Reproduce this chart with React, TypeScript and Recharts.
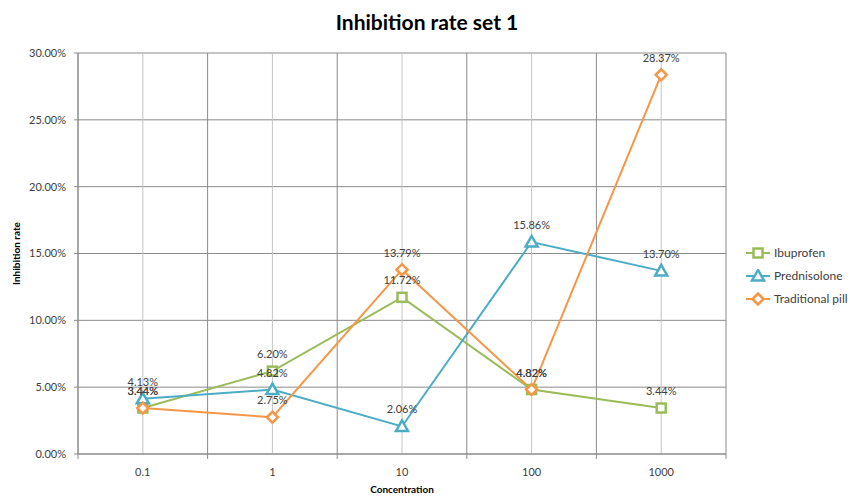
import React from 'react';
import { LineChart, Line, XAxis, YAxis, CartesianGrid, LabelList, Legend } from 'recharts';

const categories = ['0.1', '1', '10', '100', '1000'];
const ibuprofen = [0.0344, 0.062, 0.1172, 0.0482, 0.0344];
const prednisolone = [0.0413, 0.0482, 0.0206, 0.1586, 0.137];
const traditionalPill = [0.0344, 0.0275, 0.1379, 0.0482, 0.2837];
const yTicks = [0, 0.05, 0.1, 0.15, 0.2, 0.25, 0.3];
const xTicks = [-0.5, 0, 0.5, 1, 1.5, 2, 2.5, 3, 3.5, 4, 4.5];

const seriesList = [
  { key: 'ibu', name: 'Ibuprofen', color: '#9BBB59', shape: 'square', values: ibuprofen },
  { key: 'pred', name: 'Prednisolone', color: '#4BACC6', shape: 'triangle', values: prednisolone },
  { key: 'trad', name: 'Traditional pill', color: '#F79646', shape: 'diamond', values: traditionalPill },
];

const data = categories.map((c, i) => {
  const row: any = { idx: i, label: c };
  seriesList.forEach((s) => {
    row[s.key] = s.values[i];
  });
  return row;
});

const FONT = 'Lato, "Open Sans", sans-serif';
const TEXT = '#404040';
const GRID_DARK = '#8a8a8a';
const GRID_LIGHT = '#c4c4c4';

const pct = (v: any) => (Number(v) * 100).toFixed(2) + '%';

function MarkerShape({ shape, cx, cy, color }: any) {
  if (cx == null || cy == null) return null;
  const sw = 2.5;
  if (shape === 'square') {
    return <rect x={cx - 4.5} y={cy - 4.5} width={9} height={9} fill="#fff" stroke={color} strokeWidth={sw} />;
  }
  if (shape === 'triangle') {
    return (
      <polygon
        points={`${cx},${cy - 6} ${cx - 6},${cy + 4.5} ${cx + 6},${cy + 4.5}`}
        fill="#fff"
        stroke={color}
        strokeWidth={sw}
        strokeLinejoin="miter"
      />
    );
  }
  return (
    <polygon
      points={`${cx},${cy - 5.5} ${cx + 5.5},${cy} ${cx},${cy + 5.5} ${cx - 5.5},${cy}`}
      fill="#fff"
      stroke={color}
      strokeWidth={sw}
    />
  );
}

function XTick(props: any) {
  const { x, y, payload } = props;
  const v = payload.value;
  if (Number.isInteger(v)) {
    return (
      <text x={x} y={y + 22} textAnchor="middle" fill={TEXT} fontSize={11} fontFamily={FONT}>
        {categories[v]}
      </text>
    );
  }
  return <line x1={x} y1={y} x2={x} y2={y + 5} stroke={GRID_DARK} strokeWidth={1} />;
}

function GridV(props: any) {
  const { x1, y1, x2, y2, index } = props;
  const dark = index % 2 === 0;
  return <line key={`gv-${index}`} x1={x1} y1={y1} x2={x2} y2={y2} stroke={dark ? GRID_DARK : GRID_LIGHT} strokeWidth={1} />;
}

function LegendContent() {
  return (
    <div style={{ fontFamily: FONT, fontSize: 12, color: TEXT }}>
      {seriesList.map((s) => (
        <div key={s.key} style={{ display: 'flex', alignItems: 'center', height: 23, whiteSpace: 'nowrap' }}>
          <svg width={24} height={14} style={{ marginRight: 4, flex: 'none' }}>
            <line x1={0} y1={7} x2={24} y2={7} stroke={s.color} strokeWidth={2} />
            <MarkerShape shape={s.shape} cx={12} cy={7} color={s.color} />
          </svg>
          <span>{s.name}</span>
        </div>
      ))}
    </div>
  );
}

export default function App() {
  return (
    <div style={{ position: 'absolute', left: 0, top: 0, width: 850, height: 496, background: '#fff', fontFamily: FONT, overflow: 'hidden' }}>
      <div
        style={{
          position: 'absolute',
          left: 0,
          top: 9,
          width: 854,
          textAlign: 'center',
          fontSize: 21,
          lineHeight: '26px',
          fontWeight: 700,
          color: '#000',
          fontFamily: FONT,
        }}
      >
        Inhibition rate set 1
      </div>
      <LineChart
        width={850}
        height={496}
        data={data}
        margin={{ top: 53, right: 124, bottom: 12, left: 0 }}
        style={{ fontFamily: FONT }}
      >
        <CartesianGrid horizontal={true} vertical={GridV as any} stroke={GRID_DARK} strokeDasharray="" />
        <XAxis
          dataKey="idx"
          type="number"
          domain={[-0.5, 4.5]}
          ticks={xTicks}
          interval={0}
          tick={<XTick />}
          tickLine={false}
          tickSize={0}
          tickMargin={0}
          height={30}
          stroke={GRID_DARK}
          label={{
            content: (p: any) => {
              const vb = p.viewBox || {};
              return (
                <text
                  x={vb.x + vb.width / 2}
                  y={vb.y + 39}
                  textAnchor="middle"
                  fontSize={10}
                  fontWeight={700}
                  fill="#000"
                  fontFamily={FONT}
                >
                  Concentration
                </text>
              );
            },
          }}
        />
        <YAxis
          type="number"
          domain={[0, 0.3]}
          ticks={yTicks}
          tickFormatter={pct}
          width={78}
          tickSize={4}
          tickMargin={8}
          stroke={GRID_DARK}
          tick={{ fill: TEXT, fontSize: 11, fontFamily: FONT }}
          label={{
            content: (p: any) => {
              const vb = p.viewBox || {};
              const cy = vb.y + vb.height / 2;
              return (
                <text
                  x={20}
                  y={cy}
                  transform={`rotate(-90, 20, ${cy})`}
                  textAnchor="middle"
                  fontSize={10}
                  fontWeight={700}
                  fill="#000"
                  fontFamily={FONT}
                >
                  Inhibition rate
                </text>
              );
            },
          }}
        />
        <Legend
          layout="horizontal"
          align="center"
          verticalAlign="middle"
          content={<LegendContent />}
          wrapperStyle={{ left: 746, top: 241, width: 110, height: 70 }}
        />
        {seriesList.map((s) => (
          <Line
            key={s.key}
            dataKey={s.key}
            name={s.name}
            type="linear"
            stroke={s.color}
            strokeWidth={2}
            isAnimationActive={false}
            dot={(dp: any) => <MarkerShape key={`${s.key}-${dp.index}`} shape={s.shape} cx={dp.cx} cy={dp.cy} color={s.color} />}
            activeDot={false}
          >
            <LabelList
              dataKey={s.key}
              position="top"
              offset={13}
              formatter={pct}
              fill={TEXT}
              fontSize={11}
              fontFamily={FONT}
            />
          </Line>
        ))}
      </LineChart>
    </div>
  );
}
